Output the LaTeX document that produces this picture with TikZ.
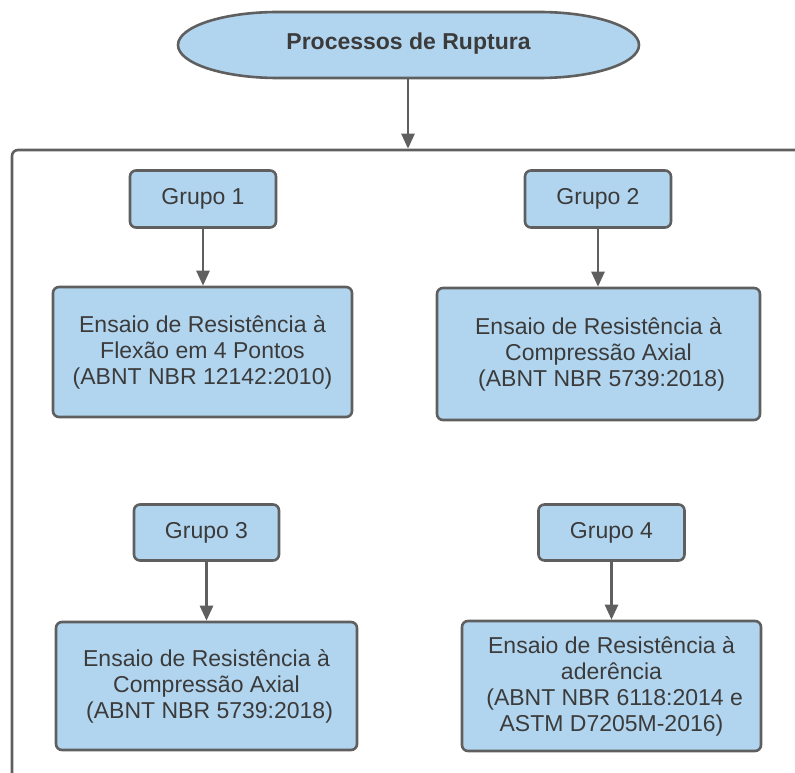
\documentclass[tikz,border=0pt]{standalone}
\usepackage{fontspec}
\setmainfont{Liberation Sans}
\usetikzlibrary{arrows.meta}
\definecolor{boxfill}{HTML}{B2D5EF}
\definecolor{edge}{HTML}{5F5F5F}
\definecolor{ink}{HTML}{3B3B3B}
\begin{document}
\begin{tikzpicture}[x=1pt,y=1pt,
  box/.style={draw=edge, line width=2.6pt, fill=boxfill, rounded corners=6pt,
    text=ink, font=\fontsize{23}{26}\selectfont, align=center, inner sep=0pt},
  link/.style={draw=edge, line width=2.6pt, -{Triangle[length=15pt,width=13pt]}},
  frameline/.style={draw=edge, line width=2.6pt, rounded corners=6pt}]
\useasboundingbox (0,0) rectangle (795,-773);

% title terminator with elliptical ends
\path[fill=boxfill, draw=edge, line width=2.6pt]
  (278,-12) -- (539,-12)
  arc[start angle=90, end angle=-90, x radius=100pt, y radius=33pt]
  -- (278,-78)
  arc[start angle=270, end angle=90, x radius=100pt, y radius=33pt] -- cycle;
\node[text=ink, font=\fontsize{23}{26}\selectfont\bfseries,
      minimum width=461pt, minimum height=66pt, inner sep=0pt]
  (title) at (408.5,-44) {Processos de Ruptura};

% enclosing frame
\coordinate (frameR) at (795,-150);
\coordinate (frameL) at (12,-150);
\coordinate (frameB) at (12,-773);
\coordinate (drop) at (408,-148.7);
\draw[frameline] (frameR) -- (frameL) -- (frameB);
\draw[link] (title.south -| drop) -- (drop);

% groups
\node[box, minimum width=146pt, minimum height=57pt] (g1) at (203,-199) {Grupo 1};
\node[box, minimum width=146pt, minimum height=57pt] (g2) at (598,-199) {Grupo 2};
\node[box, minimum width=145pt, minimum height=56pt] (g3) at (206.5,-532.5) {Grupo 3};
\node[box, minimum width=146pt, minimum height=56pt] (g4) at (611.5,-532.5) {Grupo 4};

% tests
\node[box, minimum width=299pt, minimum height=130pt] (t1) at (202.5,-352)
  {Ensaio de Resistência à\\Flexão em 4 Pontos\\(ABNT NBR 12142:2010)};
\node[box, minimum width=323pt, minimum height=132pt] (t2) at (598.5,-354)
  {Ensaio de Resistência à\\Compressão Axial\\\hspace*{0.27em}(ABNT NBR 5739:2018)};
\node[box, minimum width=301pt, minimum height=128pt] (t3) at (206.5,-686)
  {Ensaio de Resistência à\\Compressão Axial\\\hspace*{0.27em}(ABNT NBR 5739:2018)};
\node[box, minimum width=299pt, minimum height=130pt] (t4) at (611.5,-686)
  {Ensaio de Resistência à\\aderência\\\hspace*{0.27em}(ABNT NBR 6118:2014 e\\ASTM D7205M-2016)};

\draw[link] (g1) -- (t1.north -| g1);
\draw[link] (g2) -- (t2.north -| g2);
\draw[link] (g3) -- (t3.north -| g3);
\draw[link] (g4) -- (t4.north -| g4);
\end{tikzpicture}
\end{document}
